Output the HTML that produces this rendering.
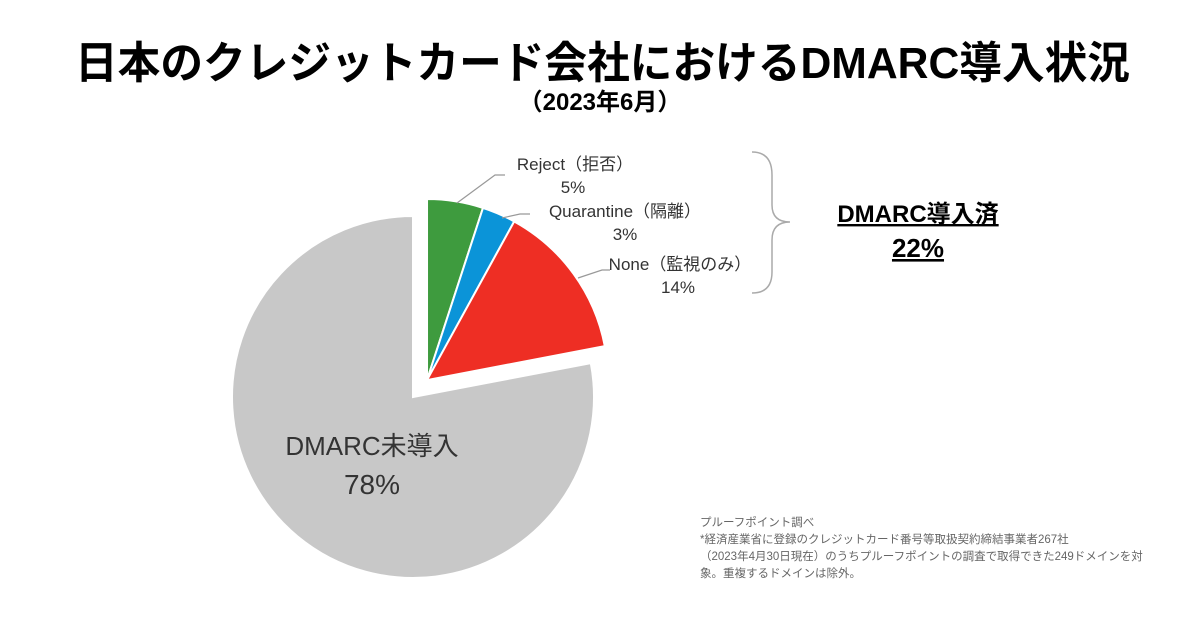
<!DOCTYPE html>
<html><head><meta charset="utf-8"><style>
body{margin:0;width:1200px;height:630px;background:#fff;overflow:hidden;font-family:"Liberation Sans","Noto Sans CJK JP",sans-serif;}
svg text{font-family:"Liberation Sans","Noto Sans CJK JP",sans-serif;}
</style></head><body>
<svg id="chart" width="1200" height="630">
<text x="75" y="78" textLength="1055" lengthAdjust="spacingAndGlyphs" font-size="44" font-weight="bold" fill="#000">日本のクレジットカード会社におけるDMARC導入状況</text>
<text x="600" y="110" text-anchor="middle" font-size="24" font-weight="bold" fill="#000">（2023年6月）</text>
<g id="slices"></g>
<g fill="none" stroke="#999" stroke-width="1.2">
<path d="M457 203 L495 175 L505 175"/>
<path d="M502 218 L520 214 L530 214"/>
<path d="M578 278 L602 270 L610 270"/>
</g>
<g font-size="17" fill="#333" text-anchor="middle">
<text x="575" y="170">Reject（拒否）</text>
<text x="573" y="193">5%</text>
<text x="625" y="217">Quarantine（隔離）</text>
<text x="625" y="240">3%</text>
<text x="680" y="270">None（監視のみ）</text>
<text x="678" y="293">14%</text>
</g>
<path d="M752 152 Q772 152 772 175 L772 205 Q772 222 790 222 Q772 222 772 240 L772 272 Q772 293 752 293" fill="none" stroke="#aaa" stroke-width="1.5"/>
<text x="918" y="222" text-anchor="middle" font-size="24" font-weight="bold" fill="#000" text-decoration="underline">DMARC導入済</text>
<text x="918" y="257" text-anchor="middle" font-size="26" font-weight="bold" fill="#000" text-decoration="underline">22%</text>
<text x="372" y="455" text-anchor="middle" font-size="26" fill="#333">DMARC未導入</text>
<text x="372" y="494" text-anchor="middle" font-size="28" fill="#333">78%</text>
<g font-size="11.5" fill="#666">
<text x="700" y="526">プルーフポイント調べ</text>
<text x="700" y="543">*経済産業省に登録のクレジットカード番号等取扱契約締結事業者267社</text>
<text x="700" y="560">（2023年4月30日現在）のうちプルーフポイントの調査で取得できた249ドメインを対</text>
<text x="700" y="577">象。重複するドメインは除外。</text>
</g>
</svg>
<script>
const categories=["Reject","Quarantine","None","Not adopted"];
const values=[5,3,14,78];
const colors=["#3e9b3e","#0b94d8","#ee2e24","#c8c8c8"];
const g=document.getElementById('slices');
const cx=413,cy=397,r=181,explode=22;
const total=values.reduce((a,b)=>a+b,0);
const adoptedShare=(values[0]+values[1]+values[2])/total;
const mid=adoptedShare*Math.PI;
const ex=cx+explode*Math.sin(mid), ey=cy-explode*Math.cos(mid);
let acc=0;
values.forEach((v,i)=>{
  const a0=acc/total*2*Math.PI, a1=(acc+v)/total*2*Math.PI; acc+=v;
  const ox=i<3?ex:cx, oy=i<3?ey:cy;
  const x0=ox+r*Math.sin(a0),y0=oy-r*Math.cos(a0),x1=ox+r*Math.sin(a1),y1=oy-r*Math.cos(a1);
  const p=document.createElementNS('http://www.w3.org/2000/svg','path');
  p.setAttribute('d',`M${ox} ${oy} L${x0} ${y0} A${r} ${r} 0 ${a1-a0>Math.PI?1:0} 1 ${x1} ${y1} Z`);
  p.setAttribute('fill',colors[i]);
  p.setAttribute('stroke','#fff');
  p.setAttribute('stroke-width','2');
  
  
  g.appendChild(p);
});
</script>
</body></html>
